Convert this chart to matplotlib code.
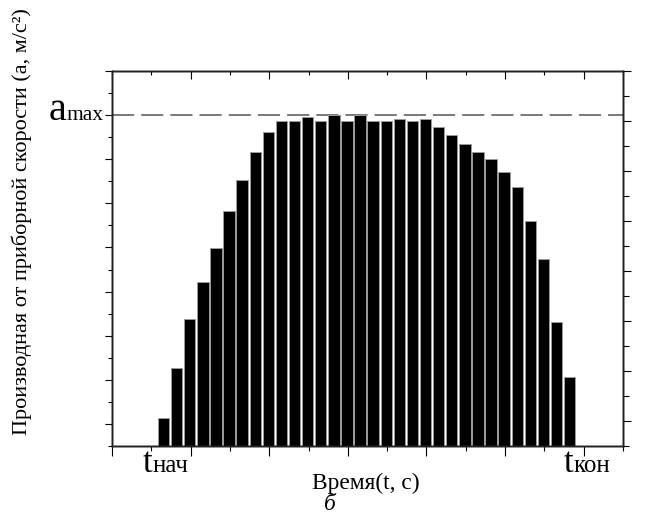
import numpy as np
import matplotlib.pyplot as plt

# производная от приборной скорости на каждом интервале (деления левой шкалы)
accel = [1.27, 3.54, 5.76, 7.43, 8.98, 10.65, 12.06, 13.33, 14.23, 14.73,
         14.73, 14.91, 14.73, 15.00, 14.73, 15.00, 14.73, 14.73, 14.82, 14.73,
         14.82, 14.46, 14.10, 13.69, 13.33, 13.01, 12.42, 11.74, 10.20, 8.48,
         5.62, 3.13]
a_max = 15
t_start_label = 0.79
t_end_label = 11.48

plt.rcParams['font.family'] = ['Liberation Serif', 'DejaVu Serif']

fig = plt.figure(figsize=(6.49, 5.2), dpi=100)
ax = fig.add_axes([0.1726, 0.1423, 0.7874, 0.7212])

t0, dt = 1.31, 1 / 3
t = t0 + np.arange(len(accel)) * dt
ax.bar(t, accel, width=0.29, color='black', edgecolor='#9a9a9a',
       linewidth=0.7, zorder=2)
ax.axhline(a_max, color='#555555', lw=1.1, dashes=(14.5, 4.6), zorder=1)

ax.set_xlim(0, 13)
ax.set_ylim(0, 17)
ax.set_xticks(np.arange(0, 14, 2))
ax.set_xticks(np.arange(1, 14, 2), minor=True)
ax.set_yticks(np.arange(1, 18, 2))
ax.set_yticks(np.arange(0, 17, 2), minor=True)
ax.tick_params(axis='x', which='major', direction='out', length=7, width=0.8)
ax.tick_params(axis='x', which='minor', direction='out', length=3.5, width=0.8)
ax.tick_params(axis='y', which='major', direction='out', length=5, width=0.8)
ax.tick_params(axis='y', which='minor', direction='out', length=3, width=0.8)
ax.tick_params(labelbottom=False, labelleft=False)

# правая шкала
ax_r = ax.twinx()
ax_r.set_ylim(0, 15)
ax_r.set_yticks(np.arange(1, 16, 2))
ax_r.set_yticks(np.arange(0, 16, 2), minor=True)
ax_r.tick_params(axis='y', which='major', direction='out', length=6, width=0.8)
ax_r.tick_params(axis='y', which='minor', direction='out', length=4, width=0.8)
ax_r.tick_params(labelright=False)

# верхняя шкала
ax_t = ax.twiny()
ax_t.set_xlim(0, 13)
ax_t.set_xticks(np.arange(0, 14, 2))
ax_t.set_xticks(np.arange(1, 14, 2), minor=True)
ax_t.tick_params(axis='x', which='major', direction='in', length=5.8, width=0.8)
ax_t.tick_params(axis='x', which='minor', direction='in', length=2.9, width=0.8)
ax_t.tick_params(labeltop=False)

for a in (ax, ax_r, ax_t):
    for s in a.spines.values():
        s.set_linewidth(1.0)
        s.set_color('#222222')

# a_max
t_max = ax.text(-0.0176, a_max - 0.23, 'max', fontsize=15.5, ha='right',
                va='baseline', transform=ax.get_yaxis_transform(), clip_on=False)
ax.annotate('a', xy=(0, a_max - 0.23), xycoords=(t_max, 'data'), fontsize=29,
            ha='right', va='baseline', annotation_clip=False)

# t_нач, t_кон
y_lab = -0.0693
for x, sub in ((t_start_label, 'нач'), (t_end_label, 'кон')):
    tt = ax.text(x, y_lab, 't', fontsize=25, ha='left', va='baseline',
                 transform=ax.get_xaxis_transform(), clip_on=False)
    ax.annotate(sub, xy=(1, y_lab), xycoords=(tt, 'axes fraction'),
                fontsize=18, ha='left', va='baseline', annotation_clip=False)

fig.text(366 / 649, 1 - 483 / 520, 'Время(t, с)', fontsize=16.8,
         ha='center', va='center')
fig.text(330 / 649, 1 - 505 / 520, 'б', fontsize=16.8, style='italic',
         ha='center', va='center')
fig.text(22 / 649, 1 - 222 / 520,
         'Производная от приборной скорости (а, м/с²)', fontsize=16,
         rotation=90, ha='center', va='center')

fig.savefig('out.png', dpi=100)
